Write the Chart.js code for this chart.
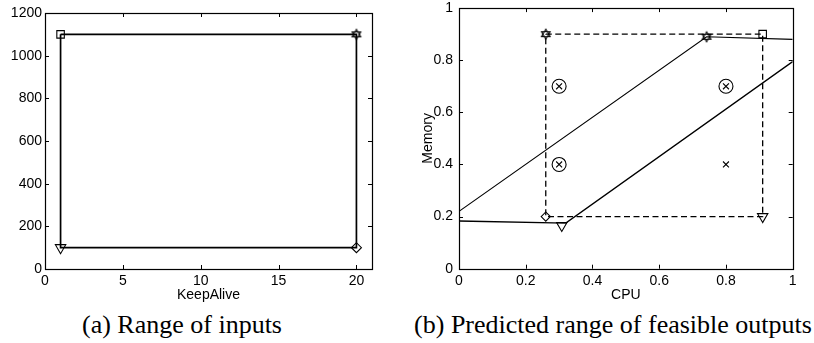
<!DOCTYPE html>
<html>
<head>
<meta charset="utf-8">
<script src="https://cdn.jsdelivr.net/npm/chart.js@4/dist/chart.umd.min.js"></script>
<style>
  body { margin: 0; background: #fff; }
  #wrap { position: relative; width: 814px; height: 343px; overflow: hidden; background: #fff; }
  canvas { position: absolute; top: 0; }
  .cap { position: absolute; top: 310px; line-height: 30px; font: 26px "Liberation Serif", "Times New Roman", serif; color: #000; text-align: center; white-space: nowrap; }
</style>
</head>
<body>
<div id="wrap">
  <canvas id="inputs" width="400" height="310" style="left:0"></canvas>
  <canvas id="outputs" width="414" height="310" style="left:400px"></canvas>
  <div class="cap" style="left:32px;width:300px">(a) Range of inputs</div>
  <div class="cap" style="left:413px;width:400px">(b) Predicted range of feasible outputs</div>
</div>
<script>
// (a) input corners, walked round the rectangle
const keepAlive = [1, 20, 20, 1, 1];
const inputY = [1100, 1100, 100, 100, 1100];
const keepAliveTicks = [0, 5, 10, 15, 20];
const inputYTicks = [0, 200, 400, 600, 800, 1000, 1200];

// (b) dashed box of predicted corners
const boxCpu = [0.26, 0.91, 0.91, 0.26, 0.26];
const boxMem = [0.9, 0.9, 0.2, 0.2, 0.9];
// (b) solid boundary lines
const upperCpu = [0, 0.742, 1];
const upperMem = [0.22, 0.89, 0.88];
const lowerCpu = [0, 0.32, 1];
const lowerMem = [0.183, 0.175, 0.795];
const lowTriCpu = [0.308];
const lowTriMem = [0.166];
// (b) sample points
const circledCpu = [0.3, 0.8, 0.3];
const circledMem = [0.7, 0.7, 0.4];
const crossCpu = [0.3, 0.8, 0.3, 0.8];
const crossMem = [0.7, 0.7, 0.4, 0.4];
const cpuTicks = [0, 0.2, 0.4, 0.6, 0.8, 1];
const memTicks = [0, 0.2, 0.4, 0.6, 0.8, 1];

const FONT = { family: '"Liberation Sans", Arial, sans-serif', size: 14 };
const TICK = 4;

const pts = (xs, ys) => xs.map((v, i) => ({ x: v, y: ys[i] }));

function hexagram(r) {
  const c = document.createElement('canvas');
  const s = Math.ceil(r * 2 + 4);
  c.width = c.height = s;
  const g = c.getContext('2d');
  g.strokeStyle = '#000';
  g.lineWidth = 1.1;
  const m = s / 2;
  [0, Math.PI].forEach(off => {
    g.beginPath();
    for (let i = 0; i < 3; i++) {
      const a = off + i * 2 * Math.PI / 3 - Math.PI / 2;
      g.lineTo(m + r * Math.cos(a), m + r * Math.sin(a));
    }
    g.closePath();
    g.stroke();
  });
  return c;
}
const star = hexagram(5);

// MATLAB-style box with inward tick marks on all sides
const boxPlugin = {
  id: 'box',
  afterDatasetsDraw(chart) {
    const { ctx, chartArea: a, scales: { x, y } } = chart;
    ctx.save();
    ctx.strokeStyle = '#000';
    ctx.lineWidth = 1;
    ctx.beginPath();
    x.ticks.forEach(t => {
      const px = Math.round(x.getPixelForValue(t.value)) + 0.5;
      ctx.moveTo(px, a.bottom); ctx.lineTo(px, a.bottom - TICK);
      ctx.moveTo(px, a.top); ctx.lineTo(px, a.top + TICK);
    });
    y.ticks.forEach(t => {
      const py = Math.round(y.getPixelForValue(t.value)) + 0.5;
      ctx.moveTo(a.left, py); ctx.lineTo(a.left + TICK, py);
      ctx.moveTo(a.right, py); ctx.lineTo(a.right - TICK, py);
    });
    ctx.stroke();
    ctx.lineWidth = 1.2;
    ctx.strokeRect(Math.round(a.left) + 0.5, Math.round(a.top) + 0.5,
      Math.round(a.right - a.left), Math.round(a.bottom - a.top));
    ctx.restore();
  }
};

function axis(min, max, ticks, pad, size, horiz, title, titlePad) {
  return {
    type: 'linear', min: min, max: max,
    grid: { display: false, drawTicks: false }, border: { display: false },
    afterBuildTicks: s => { s.ticks = ticks.map(v => ({ value: v })); },
    afterFit: s => {
      if (horiz) s.height = size; else s.width = size;
      s.paddingTop = s.paddingBottom = s.paddingLeft = s.paddingRight = 0;
    },
    ticks: { font: FONT, color: '#000', padding: pad, autoSkip: false, maxRotation: 0, callback: v => String(v) },
    title: { display: !!title, text: title || '', font: FONT, color: '#000', padding: titlePad }
  };
}

const marker = (data, style, r, extra) => Object.assign({
  data: data, showLine: false, pointStyle: style, pointRadius: r,
  pointBorderColor: '#000', pointBackgroundColor: 'rgba(0,0,0,0)', pointBorderWidth: 1.1
}, extra || {});

const lineSet = (data, w, dash) => ({
  data: data, showLine: true, borderColor: '#000', borderWidth: w, borderDash: dash || [],
  pointRadius: 0, fill: false, tension: 0
});

const common = {
  responsive: false, animation: false, devicePixelRatio: 1,
  plugins: { legend: { display: false }, tooltip: { enabled: false } }
};

const inPts = pts(keepAlive, inputY);
new Chart(document.getElementById('inputs'), {
  type: 'scatter',
  data: {
    datasets: [
      lineSet(inPts, 1.7),
      marker([inPts[0]], 'rect', 5.3),
      marker([inPts[1]], star, 5),
      marker([inPts[2]], 'rectRot', 5),
      marker([inPts[3]], 'triangle', 6, { rotation: 180 })
    ]
  },
  options: Object.assign({}, common, {
    layout: { padding: { left: 0, right: 28, top: 13, bottom: 0 } },
    scales: {
      x: axis(0, 21, keepAliveTicks, 4, 41, true, 'KeepAlive', { top: 0, bottom: 6.6 }),
      y: axis(0, 1200, inputYTicks, 3, 45, false)
    }
  }),
  plugins: [boxPlugin]
});

const boxPts = pts(boxCpu, boxMem);
const upPts = pts(upperCpu, upperMem);
new Chart(document.getElementById('outputs'), {
  type: 'scatter',
  data: {
    datasets: [
      lineSet(boxPts, 1.3, [6, 3.5]),
      lineSet(upPts, 1.2),
      lineSet(pts(lowerCpu, lowerMem), 1.4),
      marker([boxPts[0]], star, 5),
      marker([boxPts[1]], 'rect', 5.3),
      marker([boxPts[2]], 'triangle', 6, { rotation: 180 }),
      marker([boxPts[3]], 'rectRot', 4.6),
      marker([upPts[1]], star, 5),
      marker(pts(lowTriCpu, lowTriMem), 'triangle', 6, { rotation: 180 }),
      marker(pts(circledCpu, circledMem), 'circle', 7),
      marker(pts(crossCpu, crossMem), 'crossRot', 4.2)
    ]
  },
  options: Object.assign({}, common, {
    layout: { padding: { left: 0, right: 21.3, top: 5.3, bottom: 0 } },
    scales: {
      x: axis(0, 1, cpuTicks, 4, 41.3, true, 'CPU', { top: 0, bottom: 6.6 }),
      y: axis(0, 1, memTicks, 6, 59, false, 'Memory', { top: 20, bottom: 0 })
    }
  }),
  plugins: [boxPlugin]
});
</script>
</body>
</html>
